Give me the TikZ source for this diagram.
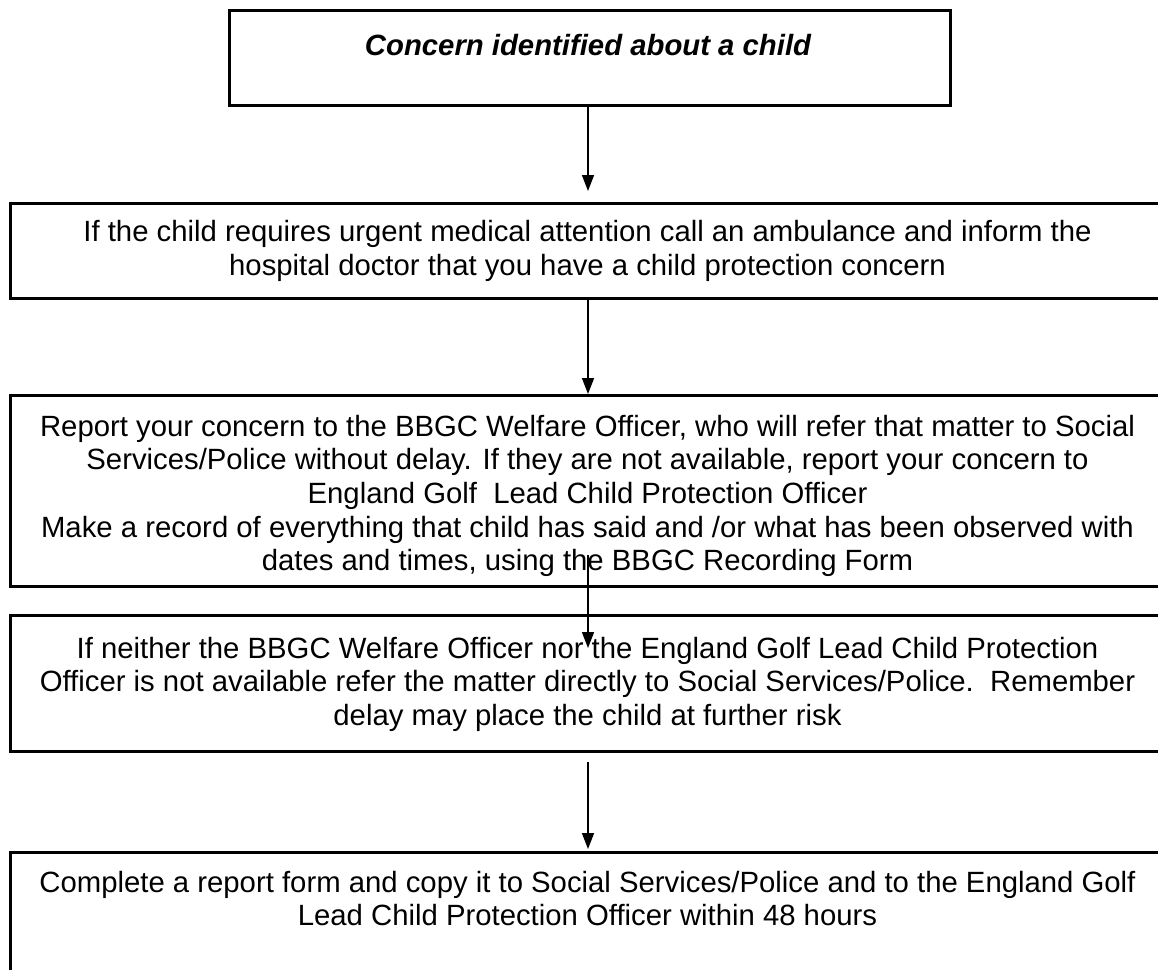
\documentclass[tikz,border=0pt]{standalone}
\usepackage{fontspec}
\setmainfont{Liberation Sans}
\usetikzlibrary{arrows.meta}
\begin{document}
\begin{tikzpicture}[x=1pt,y=-1pt,
  box/.style={draw=black,line width=3pt,rectangle,inner sep=0pt,outer sep=0pt,anchor=north west},
  txt/.style={font=\fontsize{29.3}{33.7}\selectfont,align=center,inner sep=0pt,anchor=north},
  arr/.style={draw=black,line width=1.6pt,-{Triangle[length=16pt,width=12pt]}}]
\clip (0,0) rectangle (1158,969);
\fill[white] (0,0) rectangle (1158,969);
\coordinate (ax) at (588,0);
% boxes
\node[box,minimum width=721pt,minimum height=95pt] (b1) at (229,10) {};
\node[box,minimum width=1165pt,minimum height=95pt] (b2) at (10,203) {};
\node[box,minimum width=1165pt,minimum height=191pt] (b3) at (10,395) {};
\node[box,minimum width=1165pt,minimum height=136pt] (b4) at (10,615) {};
\node[box,minimum width=1165pt,minimum height=220pt] (b5) at (10,852) {};
% texts
\node[txt,font=\fontsize{29.3}{33.7}\selectfont\bfseries\itshape] (t1) at (588,34) {Concern identified about a child};
\node[txt] (t2) at (587.5,220.5) {If the child requires urgent medical attention call an ambulance and inform the\\hospital doctor that you have a child protection concern};
\node[txt] (t3) at (587.5,414.7) {Report your concern to the BBGC Welfare Officer, who will refer that matter to Social\\Services/Police without delay. If they are not available, report your concern to\\England Golf\ \ Lead Child Protection Officer\\Make a record of everything that child has said and /or what has been observed with\\dates and times, using the BBGC Recording Form};
\node[txt] (t4) at (587.5,636.7) {If neither the BBGC Welfare Officer nor the England Golf Lead Child Protection\\Officer is not available refer the matter directly to Social Services/Police.\ \ Remember\\delay may place the child at further risk};
\node[txt] (t5) at (587.5,870.7) {Complete a report form and copy it to Social Services/Police and to the England Golf\\Lead Child Protection Officer within 48 hours};
% connectors
\draw[arr,shorten >=12pt] (b1.south -| ax) -- (b2.north -| ax);
\draw[arr,shorten >=1pt] (b2.south -| ax) -- (b3.north -| ax);
\draw[arr,shorten <=-31pt,shorten >=-33pt] (b3.south -| ax) -- (b4.north -| ax);
\draw[arr,shorten <=11pt,shorten >=3pt] (b4.south -| ax) -- (b5.north -| ax);
\end{tikzpicture}
\end{document}
